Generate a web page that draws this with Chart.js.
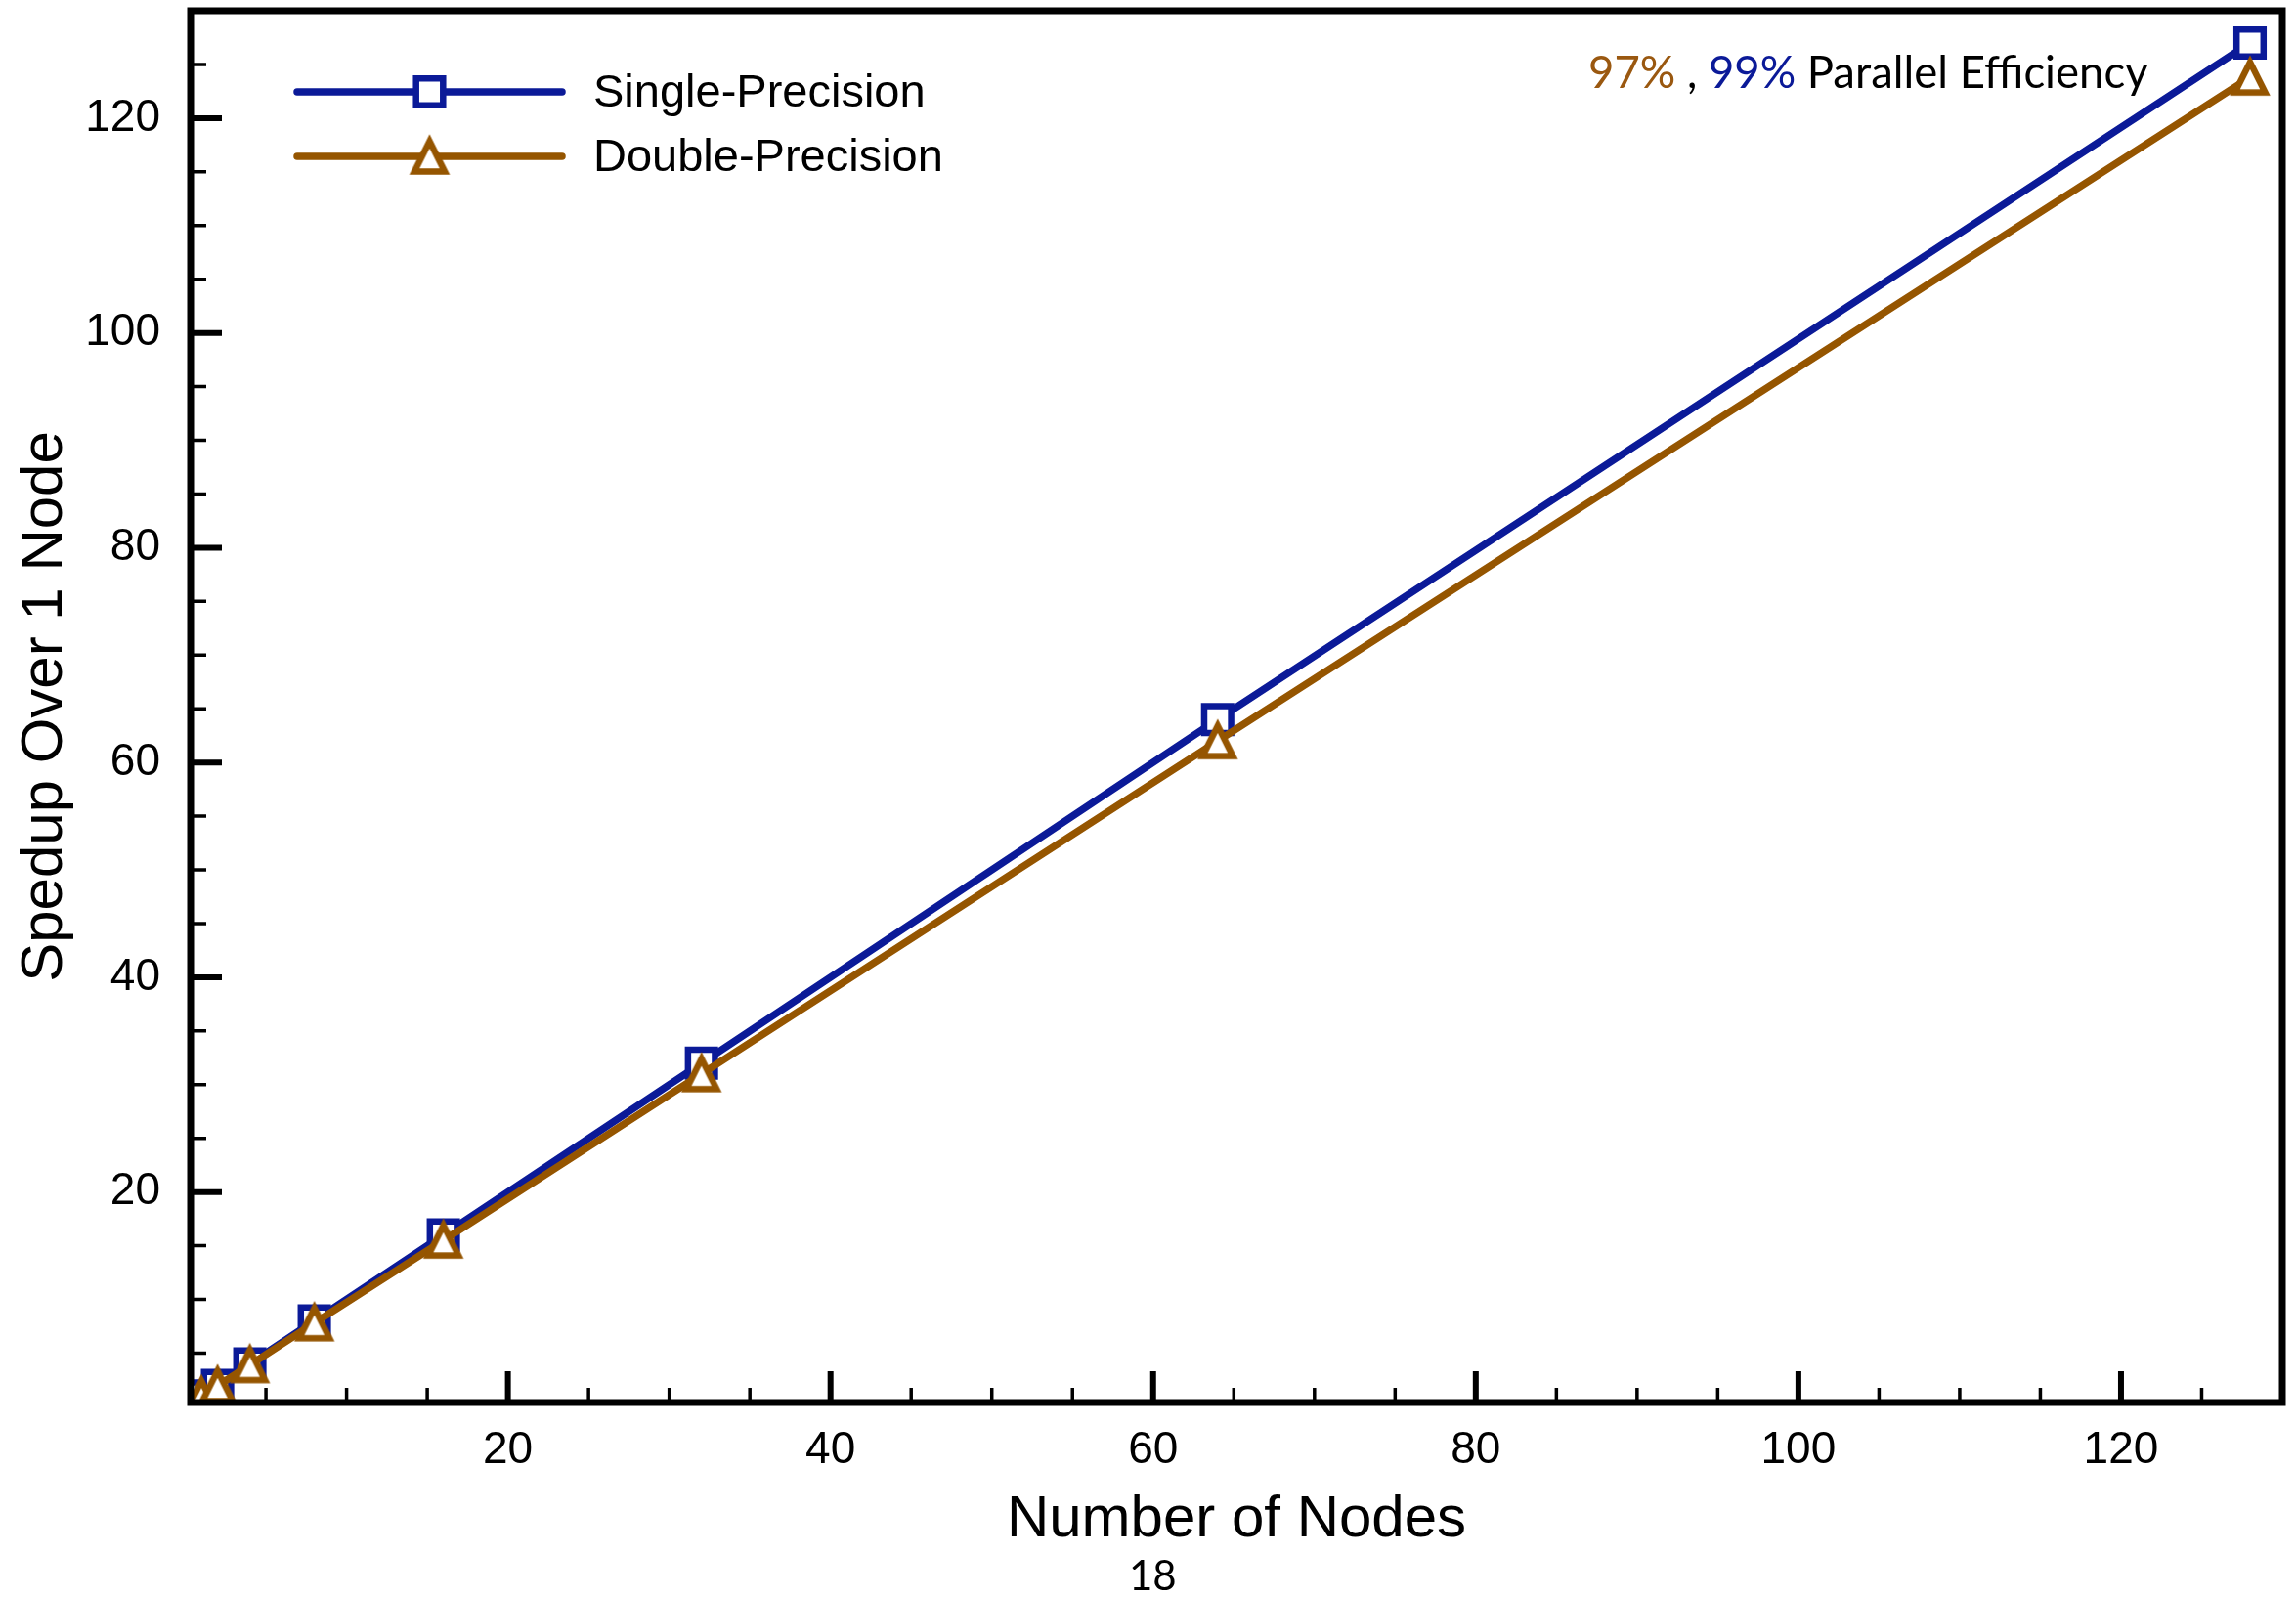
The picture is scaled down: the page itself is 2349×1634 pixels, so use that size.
<!DOCTYPE html>
<html>
<head>
<meta charset="utf-8">
<script src="https://cdn.jsdelivr.net/npm/chart.js@4.4.1/dist/chart.umd.min.js"></script>
<style>
  html, body { margin: 0; padding: 0; background: #fff; }
  #wrap { position: relative; width: 2349px; height: 1634px; }
  #note {
    position: absolute; left: 1625px; top: 44px;
    font-family: Lato, sans-serif; font-size: 45.5px; line-height: 58px;
    white-space: nowrap; color: #000;
  }
  #page {
    position: absolute; left: 1155px; top: 1588px; width: 40px; text-align: center;
    font-family: Lato, sans-serif; font-size: 42px; line-height: 46px; color: #000;
  }
</style>
</head>
<body>
<div id="wrap">
  <canvas id="chart"></canvas>
  <div id="note"><span style="color:#9a5810">97%</span> , <span style="color:#0b1a98">99%</span> Parallel Efficiency</div>
  <div id="page">18</div>
</div>
<script>
document.addEventListener('DOMContentLoaded', function () {
    // Data
    const nodes = [1, 2, 4, 8, 16, 32, 64, 128];
    const singlePrecision = [1, 2, 4, 8, 16, 32, 64, 127];
    const doublePrecision = [1, 1.95, 3.9, 7.8, 15.5, 31, 62, 123.8];
    const xTicks = [20, 40, 60, 80, 100, 120];
    const yTicks = [20, 40, 60, 80, 100, 120];

    const blue = '#0b1a98';
    const brown = '#955500';

    // Minor tick every 5 units
    const minorTicks = [];
    for (let v = 5; v <= 125; v += 5) {
        if (v % 20 !== 0) minorTicks.push(v);
    }

    // Open triangle marker centred on its box (like the original plot)
    const tri = document.createElement('canvas');
    tri.width = 60; tri.height = 60;
    (function () {
        const c = tri.getContext('2d');
        c.lineWidth = 6.5;
        c.lineJoin = 'miter';
        c.strokeStyle = brown;
        c.fillStyle = '#fff';
        c.beginPath();
        c.moveTo(30, 14.5);
        c.lineTo(45.5, 45.5);
        c.lineTo(14.5, 45.5);
        c.closePath();
        c.fill();
        c.stroke();
    })();

    // Closed frame with inward ticks, Tecplot style
    const frameTicks = {
        id: 'frameTicks',
        afterDraw(chart) {
            const { ctx, chartArea: a, scales: { x, y } } = chart;
            ctx.save();
            ctx.strokeStyle = '#000';
            ctx.lineCap = 'butt';

            ctx.lineWidth = 3.5;
            ctx.beginPath();
            minorTicks.forEach(v => {
                const px = x.getPixelForValue(v);
                if (px > a.left && px < a.right) {
                    ctx.moveTo(px, a.bottom);
                    ctx.lineTo(px, a.bottom - 15);
                }
                const py = y.getPixelForValue(v);
                if (py > a.top && py < a.bottom) {
                    ctx.moveTo(a.left, py);
                    ctx.lineTo(a.left + 16, py);
                }
            });
            ctx.stroke();

            ctx.lineWidth = 6;
            ctx.beginPath();
            xTicks.forEach(v => {
                const px = x.getPixelForValue(v);
                ctx.moveTo(px, a.bottom);
                ctx.lineTo(px, a.bottom - 32);
            });
            yTicks.forEach(v => {
                const py = y.getPixelForValue(v);
                ctx.moveTo(a.left, py);
                ctx.lineTo(a.left + 32, py);
            });
            ctx.stroke();

            ctx.lineWidth = 7;
            ctx.strokeRect(a.left, a.top, a.right - a.left, a.bottom - a.top);
            ctx.restore();
        }
    };

    function drawMarker(ctx, style, cx, cy, r) {
        if (style instanceof HTMLCanvasElement) {
            ctx.drawImage(style, cx - style.width / 2, cy - style.height / 2);
            return;
        }
        const s = Math.SQRT1_2 * r;
        ctx.beginPath();
        ctx.rect(cx - s, cy - s, 2 * s, 2 * s);
        ctx.fill();
        ctx.stroke();
    }

    // Legend: line with marker, then label
    const lineLegend = {
        id: 'lineLegend',
        afterDraw(chart) {
            const { ctx, chartArea: a } = chart;
            const rows = [chart.data.datasets[1], chart.data.datasets[0]];
            ctx.save();
            rows.forEach((ds, i) => {
                const yy = a.top + 83 + i * 66;
                const x0 = a.left + 109, x1 = a.left + 380;
                ctx.strokeStyle = ds.borderColor;
                ctx.lineWidth = ds.borderWidth;
                ctx.lineCap = 'round';
                ctx.beginPath();
                ctx.moveTo(x0, yy);
                ctx.lineTo(x1, yy);
                ctx.stroke();
                ctx.lineCap = 'butt';
                ctx.fillStyle = '#fff';
                ctx.lineWidth = ds.pointBorderWidth;
                drawMarker(ctx, ds.pointStyle, (x0 + x1) / 2, yy, ds.pointRadius);
                ctx.fillStyle = '#000';
                ctx.font = '47px "Liberation Sans", Arial, sans-serif';
                ctx.textBaseline = 'middle';
                ctx.fillText(ds.label, a.left + 412, yy + 2);
            });
            ctx.restore();
        }
    };

    const ctx = document.getElementById('chart').getContext('2d');
    new Chart(ctx, {
        type: 'line',
        data: {
            datasets: [{
                label: 'Double-Precision',
                data: nodes.map((n, i) => ({ x: n, y: doublePrecision[i] })),
                borderColor: brown,
                borderWidth: 7.5,
                pointStyle: tri,
                pointRadius: 18,
                pointBorderWidth: 6.5,
                pointBackgroundColor: '#fff',
                pointBorderColor: brown,
                clip: 0,
                order: 1
            }, {
                label: 'Single-Precision',
                data: nodes.map((n, i) => ({ x: n, y: singlePrecision[i] })),
                borderColor: blue,
                borderWidth: 7.5,
                pointStyle: 'rect',
                pointRadius: 19.5,
                pointBorderWidth: 6.5,
                pointBackgroundColor: '#fff',
                pointBorderColor: blue,
                clip: 0,
                order: 2
            }]
        },
        options: {
            responsive: true,
            maintainAspectRatio: false,
            animation: false,
            layout: { autoPadding: false, padding: { top: 11, right: 14, left: 0, bottom: 0 } },
            plugins: {
                legend: { display: false },
                tooltip: { enabled: false }
            },
            scales: {
                x: {
                    type: 'linear',
                    min: 0.33,
                    max: 130,
                    grid: { display: false, drawTicks: false },
                    border: { display: false },
                    afterBuildTicks: s => { s.ticks = xTicks.map(v => ({ value: v })); },
                    afterFit: s => {
                        s.height = 199;
                        s.paddingLeft = 0; s.paddingRight = 0;
                        s.paddingTop = 0; s.paddingBottom = 0;
                    },
                    ticks: {
                        padding: 22,
                        color: '#000',
                        font: { family: '"Liberation Sans", Arial, sans-serif', size: 46 }
                    },
                    title: {
                        display: true,
                        text: 'Number of Nodes',
                        color: '#000',
                        padding: { top: 0, bottom: 43 },
                        font: { family: '"Liberation Sans", Arial, sans-serif', size: 60 }
                    }
                },
                y: {
                    type: 'linear',
                    min: 0.4,
                    max: 130,
                    grid: { display: false, drawTicks: false },
                    border: { display: false },
                    afterBuildTicks: s => { s.ticks = yTicks.map(v => ({ value: v })); },
                    afterFit: s => {
                        s.width = 195;
                        s.paddingLeft = 0; s.paddingRight = 0;
                        s.paddingTop = 0; s.paddingBottom = 0;
                    },
                    ticks: {
                        padding: 31,
                        color: '#000',
                        font: { family: '"Liberation Sans", Arial, sans-serif', size: 46 }
                    },
                    title: {
                        display: true,
                        text: 'Spedup Over 1 Node',
                        color: '#000',
                        padding: { top: 10, bottom: 0 },
                        font: { family: '"Liberation Sans", Arial, sans-serif', size: 60 }
                    }
                }
            }
        },
        plugins: [frameTicks, lineLegend]
    });
});
</script>
</body>
</html>
